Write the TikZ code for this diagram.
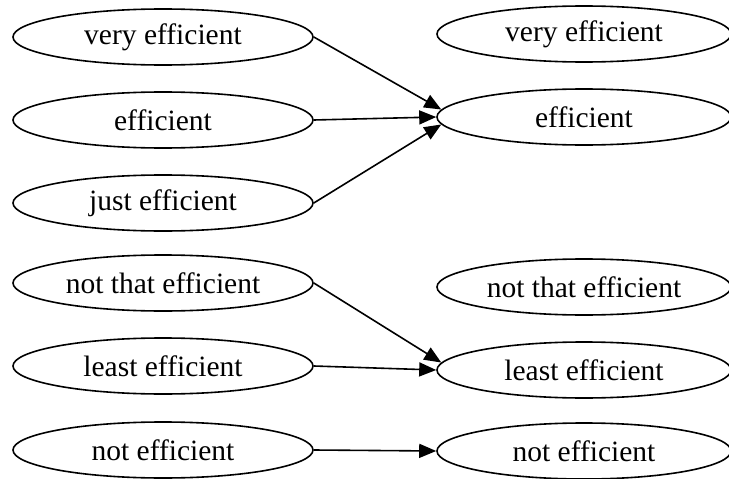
\documentclass[tikz,border=0pt]{standalone}
\usepackage{fontspec}
\setmainfont{Liberation Serif}
\usetikzlibrary{shapes.geometric,arrows.meta}
\begin{document}
\begin{tikzpicture}[x=1pt, y=-1pt, font=\fontsize{29.5}{36}\selectfont]
    % Node styles
    \tikzset{level node/.style={ellipse,draw,line width=1.6pt,minimum width=300pt,minimum height=56pt,inner sep=0pt}}
    \tikzset{target node/.style={level node,minimum width=294pt}}
    \tikzset{link/.style={line width=1.6pt,-{Triangle[length=17pt,width=14pt]}}}

    % Canvas (right column runs off the edge)
    \useasboundingbox (0,0) rectangle (729,479);
    \clip (0,0) rectangle (729,479);

    % Left column
    \node[level node] (l_very) at (163, 37) {very efficient};
    \node[level node] (l_eff) at (163, 120) {efficient};
    \node[level node] (l_just) at (163, 203) {just efficient};
    \node[level node] (l_ntf) at (163, 283) {not that efficient};
    \node[level node] (l_least) at (163, 366) {least efficient};
    \node[level node] (l_not) at (163, 450) {not efficient};

    % Right column
    \node[target node] (r_very) at (584, 34) {very efficient};
    \node[target node] (r_eff) at (584, 117) {efficient};
    \node[target node] (r_ntf) at (584, 287) {not that efficient};
    \node[target node] (r_least) at (584, 370) {least efficient};
    \node[target node] (r_not) at (584, 451) {not efficient};

    % Mappings
    \draw[link] (l_very.east) -- (r_eff.177);
    \draw[link] (l_eff.east) -- (r_eff.west);
    \draw[link] (l_just.east) -- (r_eff.183);
    \draw[link] (l_ntf.east) -- (r_least.177);
    \draw[link] (l_least.east) -- (r_least.west);
    \draw[link] (l_not.east) -- (r_not.west);
\end{tikzpicture}
\end{document}
